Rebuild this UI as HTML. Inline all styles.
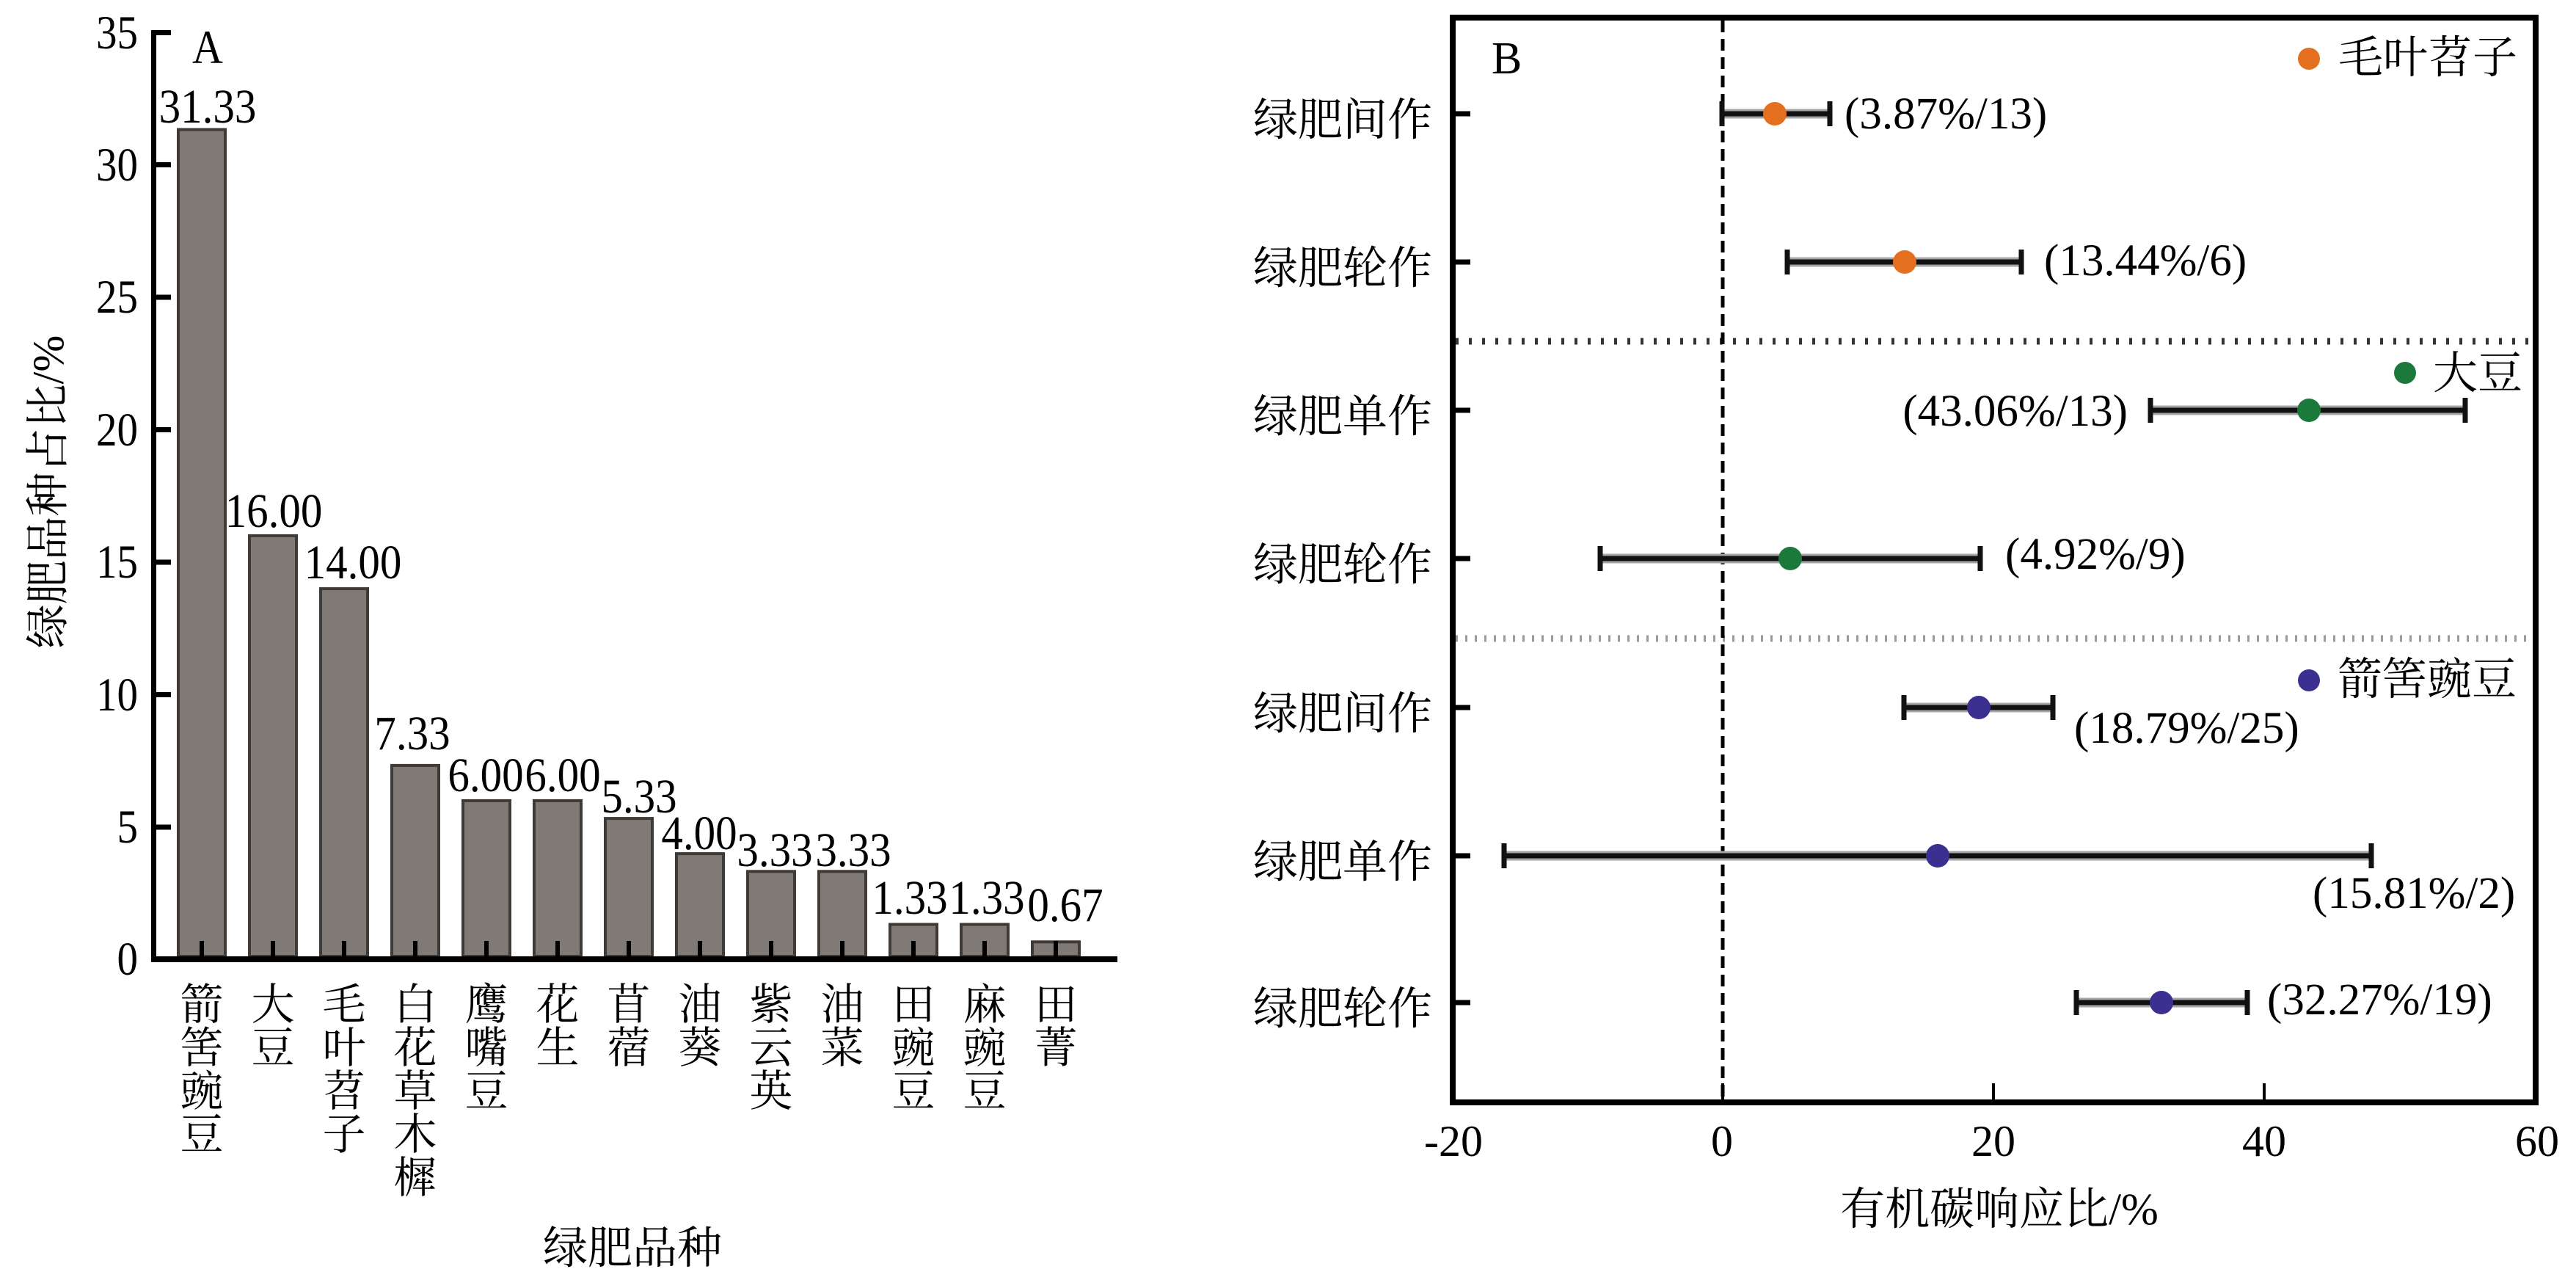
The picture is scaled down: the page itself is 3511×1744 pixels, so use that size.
<!DOCTYPE html>
<html><head><meta charset="utf-8"><style>
html,body{margin:0;padding:0;background:#fff;}
svg{display:block;}
text{font-family:"Liberation Serif","Noto Serif CJK SC",serif;fill:#000;}
</style></head><body>
<svg width="3511" height="1744" viewBox="0 0 3511 1744" xmlns="http://www.w3.org/2000/svg">
<rect width="3511" height="1744" fill="#fff"/>

<!-- ============ PANEL A ============ -->
<g fill="#7f7a75" stroke="#3f3a36" stroke-width="4">
<rect x="243" y="176.5" width="64" height="1126.5"/>
<rect x="340" y="729.9" width="64" height="573.1"/>
<rect x="437" y="802.1" width="64" height="500.9"/>
<rect x="534" y="1042.9" width="64" height="260.1"/>
<rect x="631" y="1090.9" width="64" height="212.1"/>
<rect x="728" y="1090.9" width="64" height="212.1"/>
<rect x="825" y="1115.1" width="64" height="187.9"/>
<rect x="922" y="1163.1" width="64" height="139.9"/>
<rect x="1019" y="1187.3" width="64" height="115.7"/>
<rect x="1116" y="1187.3" width="64" height="115.7"/>
<rect x="1213" y="1259.5" width="64" height="43.5"/>
<rect x="1310" y="1259.5" width="64" height="43.5"/>
<rect x="1407" y="1283.3" width="64" height="19.7"/>
</g>
<!-- x ticks -->
<g stroke="#000" stroke-width="6">
<line x1="275" y1="1282" x2="275" y2="1304"/>
<line x1="372" y1="1282" x2="372" y2="1304"/>
<line x1="469" y1="1282" x2="469" y2="1304"/>
<line x1="566" y1="1282" x2="566" y2="1304"/>
<line x1="663" y1="1282" x2="663" y2="1304"/>
<line x1="760" y1="1282" x2="760" y2="1304"/>
<line x1="857" y1="1282" x2="857" y2="1304"/>
<line x1="954" y1="1282" x2="954" y2="1304"/>
<line x1="1051" y1="1282" x2="1051" y2="1304"/>
<line x1="1148" y1="1282" x2="1148" y2="1304"/>
<line x1="1245" y1="1282" x2="1245" y2="1304"/>
<line x1="1342" y1="1282" x2="1342" y2="1304"/>
<line x1="1439" y1="1282" x2="1439" y2="1304"/>
</g>
<!-- axes -->
<line x1="209.5" y1="41" x2="209.5" y2="1311" stroke="#000" stroke-width="7"/>
<line x1="206" y1="1307" x2="1523" y2="1307" stroke="#000" stroke-width="8"/>
<g stroke="#000" stroke-width="7">
<line x1="209" y1="44.5" x2="233" y2="44.5"/>
<line x1="209" y1="224.5" x2="233" y2="224.5"/>
<line x1="209" y1="405" x2="233" y2="405"/>
<line x1="209" y1="585.5" x2="233" y2="585.5"/>
<line x1="209" y1="766" x2="233" y2="766"/>
<line x1="209" y1="946.5" x2="233" y2="946.5"/>
<line x1="209" y1="1127" x2="233" y2="1127"/>
</g>
<!-- y tick labels -->
<g font-size="57" text-anchor="end">
<text transform="translate(188,66) scale(1,1.13)">35</text>
<text transform="translate(188,246) scale(1,1.13)">30</text>
<text transform="translate(188,426) scale(1,1.13)">25</text>
<text transform="translate(188,607) scale(1,1.13)">20</text>
<text transform="translate(188,787) scale(1,1.13)">15</text>
<text transform="translate(188,968) scale(1,1.13)">10</text>
<text transform="translate(188,1148) scale(1,1.13)">5</text>
<text transform="translate(188,1328) scale(1,1.13)">0</text>
</g>
<text font-size="58" transform="translate(262,86) scale(1,1.12)">A</text>
<!-- bar value labels -->
<g font-size="59" text-anchor="middle">
<text transform="translate(283,167) scale(1,1.12)">31.33</text>
<text transform="translate(373,718) scale(1,1.12)">16.00</text>
<text transform="translate(481,788) scale(1,1.12)">14.00</text>
<text transform="translate(562,1021) scale(1,1.12)">7.33</text>
<text transform="translate(662,1078) scale(1,1.12)">6.00</text>
<text transform="translate(767,1078) scale(1,1.12)">6.00</text>
<text transform="translate(871,1107) scale(1,1.12)">5.33</text>
<text transform="translate(953,1157) scale(1,1.12)">4.00</text>
<text transform="translate(1056,1180) scale(1,1.12)">3.33</text>
<text transform="translate(1163,1180) scale(1,1.12)">3.33</text>
<text transform="translate(1240,1245) scale(1,1.12)">1.33</text>
<text transform="translate(1345,1245) scale(1,1.12)">1.33</text>
<text transform="translate(1452,1255) scale(1,1.12)">0.67</text>
</g>
<!-- vertical category labels -->
<g font-size="59" text-anchor="middle">
<text x="275" y="1389">箭</text><text x="275" y="1448">筈</text><text x="275" y="1507">豌</text><text x="275" y="1566">豆</text>
<text x="372" y="1389">大</text><text x="372" y="1448">豆</text>
<text x="469" y="1389">毛</text><text x="469" y="1448">叶</text><text x="469" y="1507">苕</text><text x="469" y="1566">子</text>
<text x="566" y="1389">白</text><text x="566" y="1448">花</text><text x="566" y="1507">草</text><text x="566" y="1566">木</text><text x="566" y="1625">樨</text>
<text x="663" y="1389">鹰</text><text x="663" y="1448">嘴</text><text x="663" y="1507">豆</text>
<text x="760" y="1389">花</text><text x="760" y="1448">生</text>
<text x="857" y="1389">苜</text><text x="857" y="1448">蓿</text>
<text x="954" y="1389">油</text><text x="954" y="1448">葵</text>
<text x="1051" y="1389">紫</text><text x="1051" y="1448">云</text><text x="1051" y="1507">英</text>
<text x="1148" y="1389">油</text><text x="1148" y="1448">菜</text>
<text x="1245" y="1389">田</text><text x="1245" y="1448">豌</text><text x="1245" y="1507">豆</text>
<text x="1342" y="1389">麻</text><text x="1342" y="1448">豌</text><text x="1342" y="1507">豆</text>
<text x="1439" y="1389">田</text><text x="1439" y="1448">菁</text>
</g>
<text font-size="61" text-anchor="middle" x="862" y="1721">绿肥品种</text>
<text font-size="60" text-anchor="middle" transform="translate(86,670) rotate(-90)">绿肥品种占比/%</text>

<!-- ============ PANEL B ============ -->
<!-- separators -->
<line x1="1984" y1="465" x2="3452" y2="465" stroke="#333" stroke-width="9" stroke-dasharray="4 14"/>
<line x1="1984" y1="870" x2="3452" y2="870" stroke="#9a9a9a" stroke-width="9" stroke-dasharray="3 10"/>
<!-- zero dashed line -->
<line x1="2348" y1="28" x2="2348" y2="1498" stroke="#000" stroke-width="5" stroke-dasharray="16 9"/>
<!-- frame -->
<rect x="1980" y="24" width="1476" height="1478" fill="none" stroke="#000" stroke-width="8"/>
<!-- left ticks -->
<g stroke="#000" stroke-width="7">
<line x1="1984" y1="155" x2="2004" y2="155"/>
<line x1="1984" y1="357" x2="2004" y2="357"/>
<line x1="1984" y1="559" x2="2004" y2="559"/>
<line x1="1984" y1="761" x2="2004" y2="761"/>
<line x1="1984" y1="964" x2="2004" y2="964"/>
<line x1="1984" y1="1166" x2="2004" y2="1166"/>
<line x1="1984" y1="1366" x2="2004" y2="1366"/>
</g>
<!-- bottom ticks -->
<g stroke="#000" stroke-width="4">
<line x1="2717" y1="1498" x2="2717" y2="1476"/>
<line x1="3086" y1="1498" x2="3086" y2="1476"/>
<line x1="2348" y1="1498" x2="2348" y2="1476"/>
</g>
<!-- category labels -->
<g font-size="61" text-anchor="end">
<text x="1952" y="184">绿肥间作</text>
<text x="1952" y="386">绿肥轮作</text>
<text x="1952" y="588">绿肥单作</text>
<text x="1952" y="790">绿肥轮作</text>
<text x="1952" y="993">绿肥间作</text>
<text x="1952" y="1195">绿肥单作</text>
<text x="1952" y="1395">绿肥轮作</text>
</g>
<!-- x tick labels -->
<g font-size="60" text-anchor="middle">
<text x="1981" y="1575">-20</text>
<text x="2347" y="1575">0</text>
<text x="2717" y="1575">20</text>
<text x="3086" y="1575">40</text>
<text x="3458" y="1575">60</text>
</g>
<text font-size="61" text-anchor="middle" x="2725" y="1668">有机碳响应比/%</text>
<text font-size="62" x="2033" y="100">B</text>

<!-- error bars: halo -->
<g stroke="#a5a5a5" stroke-width="13">
<line x1="2347" y1="155" x2="2494" y2="155"/>
<line x1="2436" y1="357" x2="2755" y2="357"/>
<line x1="2931" y1="559" x2="3360" y2="559"/>
<line x1="2181" y1="761" x2="2699" y2="761"/>
<line x1="2595" y1="964" x2="2798" y2="964"/>
<line x1="2050" y1="1166" x2="3232" y2="1166"/>
<line x1="2830" y1="1366" x2="3063" y2="1366"/>
</g>
<g stroke="#111" stroke-width="7">
<line x1="2347" y1="155" x2="2494" y2="155"/>
<line x1="2436" y1="357" x2="2755" y2="357"/>
<line x1="2931" y1="559" x2="3360" y2="559"/>
<line x1="2181" y1="761" x2="2699" y2="761"/>
<line x1="2595" y1="964" x2="2798" y2="964"/>
<line x1="2050" y1="1166" x2="3232" y2="1166"/>
<line x1="2830" y1="1366" x2="3063" y2="1366"/>
<!-- caps -->
<line x1="2347" y1="138" x2="2347" y2="172"/><line x1="2494" y1="138" x2="2494" y2="172"/>
<line x1="2436" y1="340" x2="2436" y2="374"/><line x1="2755" y1="340" x2="2755" y2="374"/>
<line x1="2931" y1="542" x2="2931" y2="576"/><line x1="3360" y1="542" x2="3360" y2="576"/>
<line x1="2181" y1="744" x2="2181" y2="778"/><line x1="2699" y1="744" x2="2699" y2="778"/>
<line x1="2595" y1="947" x2="2595" y2="981"/><line x1="2798" y1="947" x2="2798" y2="981"/>
<line x1="2050" y1="1149" x2="2050" y2="1183"/><line x1="3232" y1="1149" x2="3232" y2="1183"/>
<line x1="2830" y1="1349" x2="2830" y2="1383"/><line x1="3063" y1="1349" x2="3063" y2="1383"/>
</g>
<!-- markers -->
<g fill="#e36f1f">
<circle cx="2419" cy="155" r="16"/>
<circle cx="2596" cy="357" r="16"/>
<circle cx="3147" cy="80" r="15"/>
</g>
<g fill="#1b7a3b">
<circle cx="3147" cy="559" r="16"/>
<circle cx="2440" cy="761" r="16"/>
<circle cx="3278" cy="508" r="15"/>
</g>
<g fill="#3b2f8f">
<circle cx="2697" cy="964" r="16"/>
<circle cx="2641" cy="1166" r="16"/>
<circle cx="2946" cy="1366" r="16"/>
<circle cx="3147" cy="927" r="15"/>
</g>
<!-- value labels -->
<g font-size="61">
<text x="2514" y="175">(3.87%/13)</text>
<text x="2786" y="375">(13.44%/6)</text>
<text x="2900" y="580" text-anchor="end">(43.06%/13)</text>
<text x="2733" y="775">(4.92%/9)</text>
<text x="2827" y="1012">(18.79%/25)</text>
<text x="3152" y="1237">(15.81%/2)</text>
<text x="3090" y="1382">(32.27%/19)</text>
</g>
<!-- legends -->
<g font-size="61">
<text x="3187" y="99">毛叶苕子</text>
<text x="3316" y="529">大豆</text>
<text x="3186" y="946">箭筈豌豆</text>
</g>
</svg>
</body></html>
